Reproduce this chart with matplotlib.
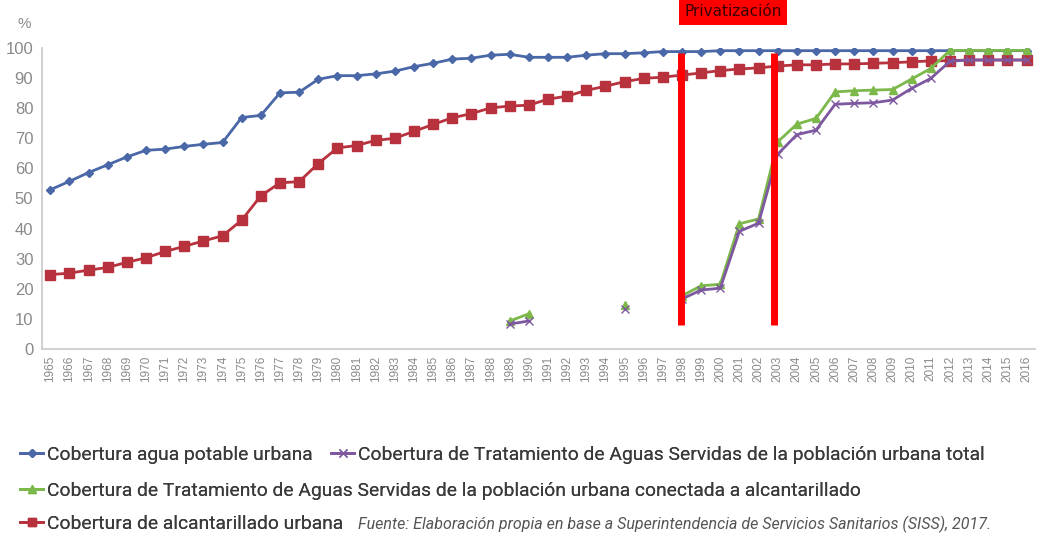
import numpy as np
import matplotlib
matplotlib.use("Agg")
import matplotlib.pyplot as plt
from matplotlib.lines import Line2D

nan = np.nan
years = list(range(1965, 2017))

agua_potable = [52.9, 55.7, 58.6, 61.2, 63.8, 66.0, 66.4, 67.3, 68.0, 68.6,
                76.9, 77.6, 85.1, 85.3, 89.6, 90.8, 90.8, 91.4, 92.3, 93.8,
                94.9, 96.3, 96.6, 97.6, 97.9, 96.9, 96.9, 96.9, 97.6, 98.1,
                98.1, 98.4, 98.8, 98.8, 98.8, 99.1, 99.1, 99.1, 99.1, 99.1,
                99.1, 99.1, 99.1, 99.1, 99.1, 99.1, 99.1, 99.1, 99.1, 99.1,
                99.1, 99.1]

alcantarillado = [24.7, 25.2, 26.2, 27.1, 28.8, 30.3, 32.4, 34.1, 35.9, 37.6,
                  42.8, 50.9, 55.2, 55.6, 61.6, 66.8, 67.6, 69.3, 70.0, 72.3,
                  74.6, 76.8, 78.2, 80.1, 80.7, 81.0, 83.0, 84.0, 85.9, 87.3,
                  88.8, 89.9, 90.3, 91.0, 91.7, 92.5, 93.0, 93.4, 94.0, 94.4,
                  94.4, 94.7, 94.7, 94.9, 95.1, 95.4, 95.7, 95.8, 96.0, 96.0,
                  96.0, 96.0]

# tratamiento, poblacion urbana total
trat_total = [nan] * 24 + [8.3, 9.3, nan, nan, nan, nan, 13.3, nan, nan,
              16.6, 19.6, 20.2, 39.1, 41.8, 64.7, 71.2, 72.7, 81.3, 81.6,
              81.8, 82.7, 86.6, 89.9, 95.6, 96.0, 96.0, 96.0, 96.0]

# tratamiento, poblacion conectada a alcantarillado
trat_conectada = [nan] * 24 + [9.3, 11.7, nan, nan, nan, nan, 14.7, nan, nan,
                  17.7, 21.0, 21.5, 41.6, 43.2, 68.8, 74.7, 76.6, 85.4, 85.8,
                  86.0, 86.2, 89.7, 93.2, 99.2, 99.2, 99.2, 99.2, 99.2]

privatizacion = [1997.95, 2002.8]

c_blue = "#4a67a8"
c_red = "#b8323e"
c_green = "#7cb84a"
c_purple = "#7d58a0"
grey = "#8a8a8a"
txt = "#3a3a3a"

fig = plt.figure(figsize=(10.52, 5.39), dpi=100)
ax = fig.add_axes([0.0396, 0.3525, 0.9444, 0.5585])

ax.plot(years, agua_potable, color=c_blue, lw=2, marker="D", ms=4.5, zorder=3)
ax.plot(years, alcantarillado, color=c_red, lw=2, marker="s", ms=7, zorder=3)
ax.plot(years, trat_conectada, color=c_green, lw=2, marker="^", ms=6, zorder=4)
ax.plot(years, trat_total, color=c_purple, lw=2, marker="x", ms=6, mew=1, zorder=4)

for x in privatizacion:
    ax.vlines(x, 8, 98.3, color="#ff0000", lw=5, zorder=5)

ax.text(np.mean(privatizacion) + 0.3, 112, "Privatización", ha="center", va="center",
        fontsize=11, color="#3a0000", family="DejaVu Sans",
        bbox=dict(facecolor="#ff0000", edgecolor="none", pad=4), clip_on=False)

ax.set_xlim(1964.55, 2016.45)
ax.set_ylim(0, 100)
ax.set_yticks(range(0, 101, 10))
ax.set_xticks(years)
ax.set_xticklabels([str(y) for y in years], rotation=90, fontsize=8.5, color=grey,
                   family="Liberation Sans")
ax.set_yticklabels([str(v) for v in range(0, 101, 10)], fontsize=12, color=grey,
                   family="Liberation Sans")
ax.tick_params(axis="y", length=0, pad=6)
ax.tick_params(axis="x", length=0, pad=5)
for s in ["top", "right"]:
    ax.spines[s].set_visible(False)
for s in ["left", "bottom"]:
    ax.spines[s].set_color("#c8c8c8")
    ax.spines[s].set_linewidth(1.2)

fig.text(0.017, 0.955, "%", fontsize=11, color=grey, ha="left", va="center",
         family="Liberation Sans")

leg_font = dict(family="Roboto", size=13.9)
h_blue = Line2D([], [], color=c_blue, lw=2, marker="D", ms=4)
h_purple = Line2D([], [], color=c_purple, lw=2, marker="x", ms=6)
h_green = Line2D([], [], color=c_green, lw=2, marker="^", ms=6)
h_red = Line2D([], [], color=c_red, lw=2, marker="s", ms=6)

kw = dict(frameon=False, prop=leg_font, handlelength=1.2, handletextpad=0.2,
          borderaxespad=0, labelcolor=txt, loc="center left", borderpad=0)
entries = [
    (h_blue, "Cobertura agua potable urbana", 20, 455),
    (h_purple, "Cobertura de Tratamiento de Aguas Servidas de la población urbana total", 331, 455),
    (h_green, "Cobertura de Tratamiento de Aguas Servidas de la población urbana conectada a alcantarillado", 20, 491),
    (h_red, "Cobertura de alcantarillado urbana", 20, 524),
]
for h, lab, px, py in entries:
    leg = fig.legend([h], [lab], bbox_to_anchor=(px / 1052, 1 - py / 539), **kw)
    fig.add_artist(leg)

fig.text(358 / 1052, 1 - 524 / 539,
         "Fuente: Elaboración propia en base a Superintendencia de Servicios Sanitarios (SISS), 2017.",
         fontsize=11.5, style="italic", color="#555555", va="center", family="Roboto")

fig.savefig("out.png", dpi=100, facecolor="white")
